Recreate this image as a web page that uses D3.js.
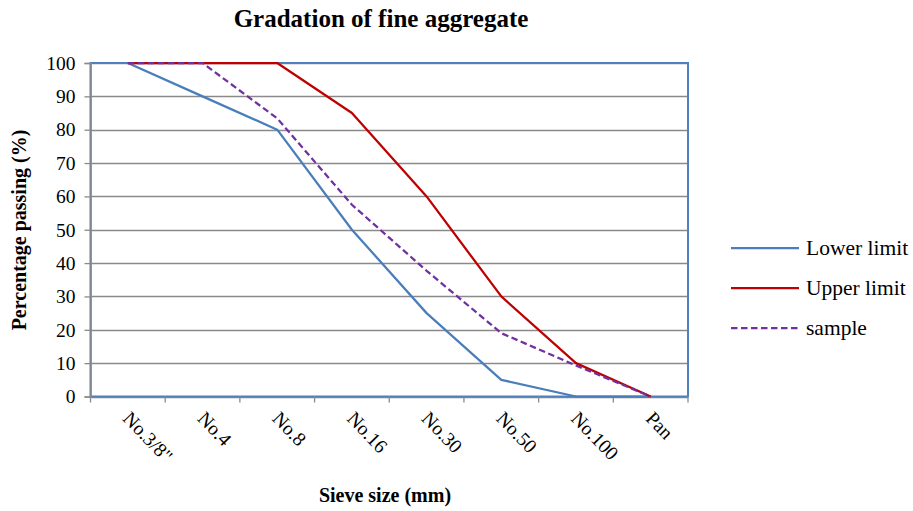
<!DOCTYPE html>
<html>
<head>
<meta charset="utf-8">
<script src="https://cdn.jsdelivr.net/npm/d3@7"></script>
</head>
<body style="margin:0;background:#fff">
<svg id="chart" width="913" height="511" style="font-family:'Liberation Serif','Times New Roman',Tinos,serif"></svg>
<script>
// Sieve sizes along the x axis
const sieves = ["No.3/8\"", "No.4", "No.8", "No.16", "No.30", "No.50", "No.100", "Pan"];
// Percentage passing for each series
const lowerLimit = [100, 90, 80, 50, 25, 5, 0, 0];
const upperLimit = [100, 100, 100, 85, 60, 30, 10, 0];
const sample = [100, 100, 83.4, 57.5, 37.7, 19, 9.3, 0];
const yTicks = [0, 10, 20, 30, 40, 50, 60, 70, 80, 90, 100];

const seriesList = [
  { name: "Lower limit", values: lowerLimit, color: "#4A7EBB", dash: null },
  { name: "Upper limit", values: upperLimit, color: "#BE0000", dash: null },
  { name: "sample", values: sample, color: "#7030A0", dash: "6.5,3.5" }
];

const FONT = "'Liberation Serif', 'Times New Roman', Tinos, serif";
const svg = d3.select("#chart");
const plot = { left: 90.5, right: 688, top: 63, bottom: 396.5 };

const x = d3.scaleBand().domain(sieves).range([plot.left, plot.right]).padding(0);
const xc = d => x(d) + x.bandwidth() / 2;
const y = d3.scaleLinear().domain([0, 100]).range([plot.bottom, plot.top]);

function serif(sel, size, bold) {
  sel.style("font-family", FONT)
     .style("font-size", size + "px")
     .style("font-weight", bold ? "bold" : "normal");
  return sel;
}

// Title
svg.append("text")
  .attr("x", 381).attr("y", 27)
  .attr("text-anchor", "middle")
  .call(serif, 25, true)
  .text("Gradation of fine aggregate");

// Horizontal gridlines
svg.append("g")
  .selectAll("line")
  .data(yTicks)
  .join("line")
  .attr("x1", plot.left).attr("x2", plot.right)
  .attr("y1", d => Math.round(y(d)) + 0.5).attr("y2", d => Math.round(y(d)) + 0.5)
  .attr("stroke", "#8a8a8a").attr("stroke-width", 1.3);

// Plot area border
svg.append("rect")
  .attr("x", plot.left).attr("y", plot.top)
  .attr("width", plot.right - plot.left).attr("height", plot.bottom - plot.top)
  .attr("fill", "none").attr("stroke", "#4F81BD").attr("stroke-width", 2);

// Y axis
const yAxis = svg.append("g")
  .attr("transform", `translate(${plot.left},0)`)
  .call(d3.axisLeft(y).tickValues(yTicks).tickSize(6).tickPadding(9));
yAxis.attr("font-family", null).attr("font-size", null);
yAxis.select(".domain").attr("stroke", "#8a8a8a").attr("stroke-width", 1.6);
yAxis.selectAll(".tick line").attr("stroke", "#8a8a8a").attr("stroke-width", 1.3);
yAxis.selectAll(".tick text").attr("fill", "#000").call(serif, 19.5, false);

// X axis: ticks on band boundaries
const xAxisG = svg.append("g").attr("transform", `translate(0,${plot.bottom})`);
const boundaries = sieves.map(s => x(s)).concat([plot.right]);
xAxisG.selectAll("line.tick")
  .data(boundaries)
  .join("line")
  .attr("class", "tick")
  .attr("x1", d => d).attr("x2", d => d)
  .attr("y1", 0).attr("y2", 6)
  .attr("stroke", "#8a8a8a").attr("stroke-width", 1.3);

xAxisG.selectAll("text.lbl")
  .data(sieves)
  .join("text")
  .attr("class", "lbl")
  .attr("transform", d => `translate(${xc(d) - 6},${23}) rotate(46)`)
  .attr("text-anchor", "start")
  .call(serif, 19.5, false)
  .text(d => d);

// Axis titles
svg.append("text")
  .attr("x", 385).attr("y", 502)
  .attr("text-anchor", "middle")
  .call(serif, 20, true)
  .text("Sieve size (mm)");

svg.append("text")
  .attr("transform", "translate(26,230) rotate(-90)")
  .attr("text-anchor", "middle")
  .call(serif, 20, true)
  .text("Percentage passing (%)");

// Series lines
const line = d3.line()
  .x((d, i) => xc(sieves[i]))
  .y(d => y(d));

svg.append("g")
  .selectAll("path")
  .data(seriesList)
  .join("path")
  .attr("d", s => line(s.values))
  .attr("fill", "none")
  .attr("stroke", s => s.color)
  .attr("stroke-width", 2.25)
  .attr("stroke-dasharray", s => s.dash)
  .attr("stroke-linejoin", "round");

// Legend
const legend = svg.append("g").selectAll("g")
  .data(seriesList)
  .join("g")
  .attr("transform", (s, i) => `translate(731,${248 + i * 40})`);
legend.append("line")
  .attr("x1", 0).attr("x2", 68).attr("y1", 0).attr("y2", 0)
  .attr("stroke", s => s.color).attr("stroke-width", 2.25)
  .attr("stroke-dasharray", s => s.dash);
legend.append("text")
  .attr("x", 75).attr("y", 0).attr("dy", "0.33em")
  .call(serif, 21.5, false)
  .text(s => s.name);
</script>
</body>
</html>
